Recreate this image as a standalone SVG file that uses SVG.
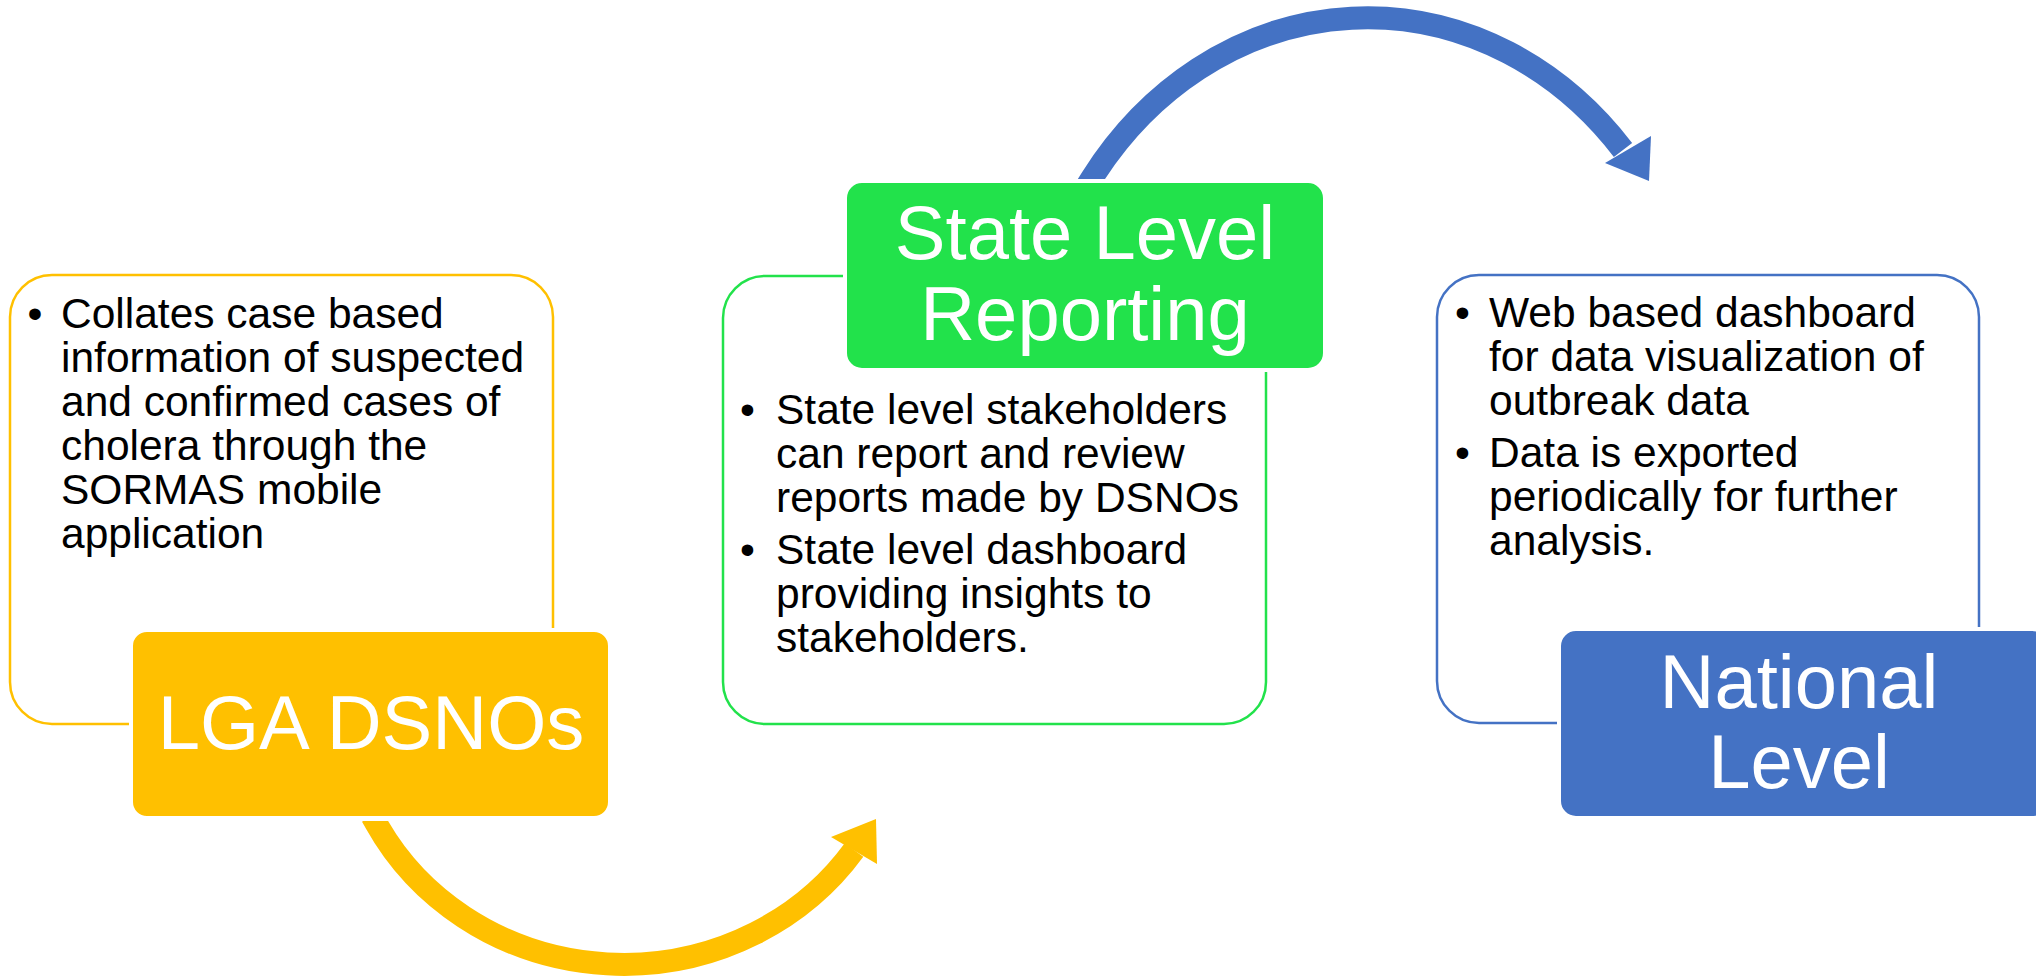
<svg xmlns="http://www.w3.org/2000/svg" width="2036" height="976" viewBox="0 0 2036 976">
<style>
.outline{fill:#FFFFFF;stroke-width:2.5}
.head{fill:#FFFFFF;stroke:#FFFFFF;stroke-width:4}
.body{font-family:"Liberation Sans",Arial,sans-serif;font-size:42.5px;fill:#000000}
.title{font-family:"Liberation Sans",Arial,sans-serif;font-size:76px;fill:#FFFFFF;text-anchor:middle}
.arc{fill:none;stroke-width:23}
</style>
<defs>
<clipPath id="clipBlue"><rect x="0" y="0" width="2036" height="179"/></clipPath>
<clipPath id="clipYellow"><rect x="0" y="821" width="2036" height="155"/></clipPath>
</defs>
<rect x="0" y="0" width="2036" height="976" fill="#FFFFFF"/>

<g id="connectors">
<g id="arrow-lga-to-state">
<path class="arc" stroke="#FFC000" clip-path="url(#clipYellow)" d="M372,816 L376,823 A280,265 0 0,0 854,850"/>
<polygon fill="#FFC000" points="876,819 877,864 831,837"/>
</g>
<g id="arrow-state-to-national">
<path class="arc" stroke="#4472C4" clip-path="url(#clipBlue)" d="M1086.7,186.5 L1092,178 A338,382 0 0,1 1623,150"/>
<polygon fill="#4472C4" points="1651,136 1649,181 1605,163"/>
</g>
</g>

<g id="node-lga">
<rect class="outline" x="10" y="275" width="543" height="449" rx="42" stroke="#FFC000"/>
<text class="body" x="27.5" y="328">•</text>
<text class="body" x="61" y="328">Collates case based</text>
<text class="body" x="61" y="372">information of suspected</text>
<text class="body" x="61" y="416">and confirmed cases of</text>
<text class="body" x="61" y="460">cholera through the</text>
<text class="body" x="61" y="504">SORMAS mobile</text>
<text class="body" x="61" y="548">application</text>
<rect class="head" x="131" y="630" width="479" height="188" rx="16" style="fill:#FFC000"/>
<text class="title" x="371" y="749">LGA DSNOs</text>
</g>

<g id="node-state">
<rect class="outline" x="723" y="276" width="543" height="448" rx="42" stroke="#22E24B"/>
<text class="body" x="740" y="424">•</text>
<text class="body" x="776" y="424">State level stakeholders</text>
<text class="body" x="776" y="468">can report and review</text>
<text class="body" x="776" y="512">reports made by DSNOs</text>
<text class="body" x="740" y="564">•</text>
<text class="body" x="776" y="564">State level dashboard</text>
<text class="body" x="776" y="608">providing insights to</text>
<text class="body" x="776" y="652">stakeholders.</text>
<rect class="head" x="845" y="181" width="480" height="189" rx="17" style="fill:#22E24B"/>
<text class="title" x="1085" y="259">State Level</text>
<text class="title" x="1085" y="340">Reporting</text>
</g>

<g id="node-national">
<rect class="outline" x="1437" y="275" width="542" height="448" rx="42" stroke="#4472C4"/>
<text class="body" x="1455" y="327">•</text>
<text class="body" x="1489" y="327">Web based dashboard</text>
<text class="body" x="1489" y="371">for data visualization of</text>
<text class="body" x="1489" y="415">outbreak data</text>
<text class="body" x="1455" y="467">•</text>
<text class="body" x="1489" y="467">Data is exported</text>
<text class="body" x="1489" y="511">periodically for further</text>
<text class="body" x="1489" y="555">analysis.</text>
<rect class="head" x="1559" y="629" width="490" height="189" rx="17" style="fill:#4472C4"/>
<text class="title" x="1799" y="708">National</text>
<text class="title" x="1799" y="788">Level</text>
</g>
</svg>
